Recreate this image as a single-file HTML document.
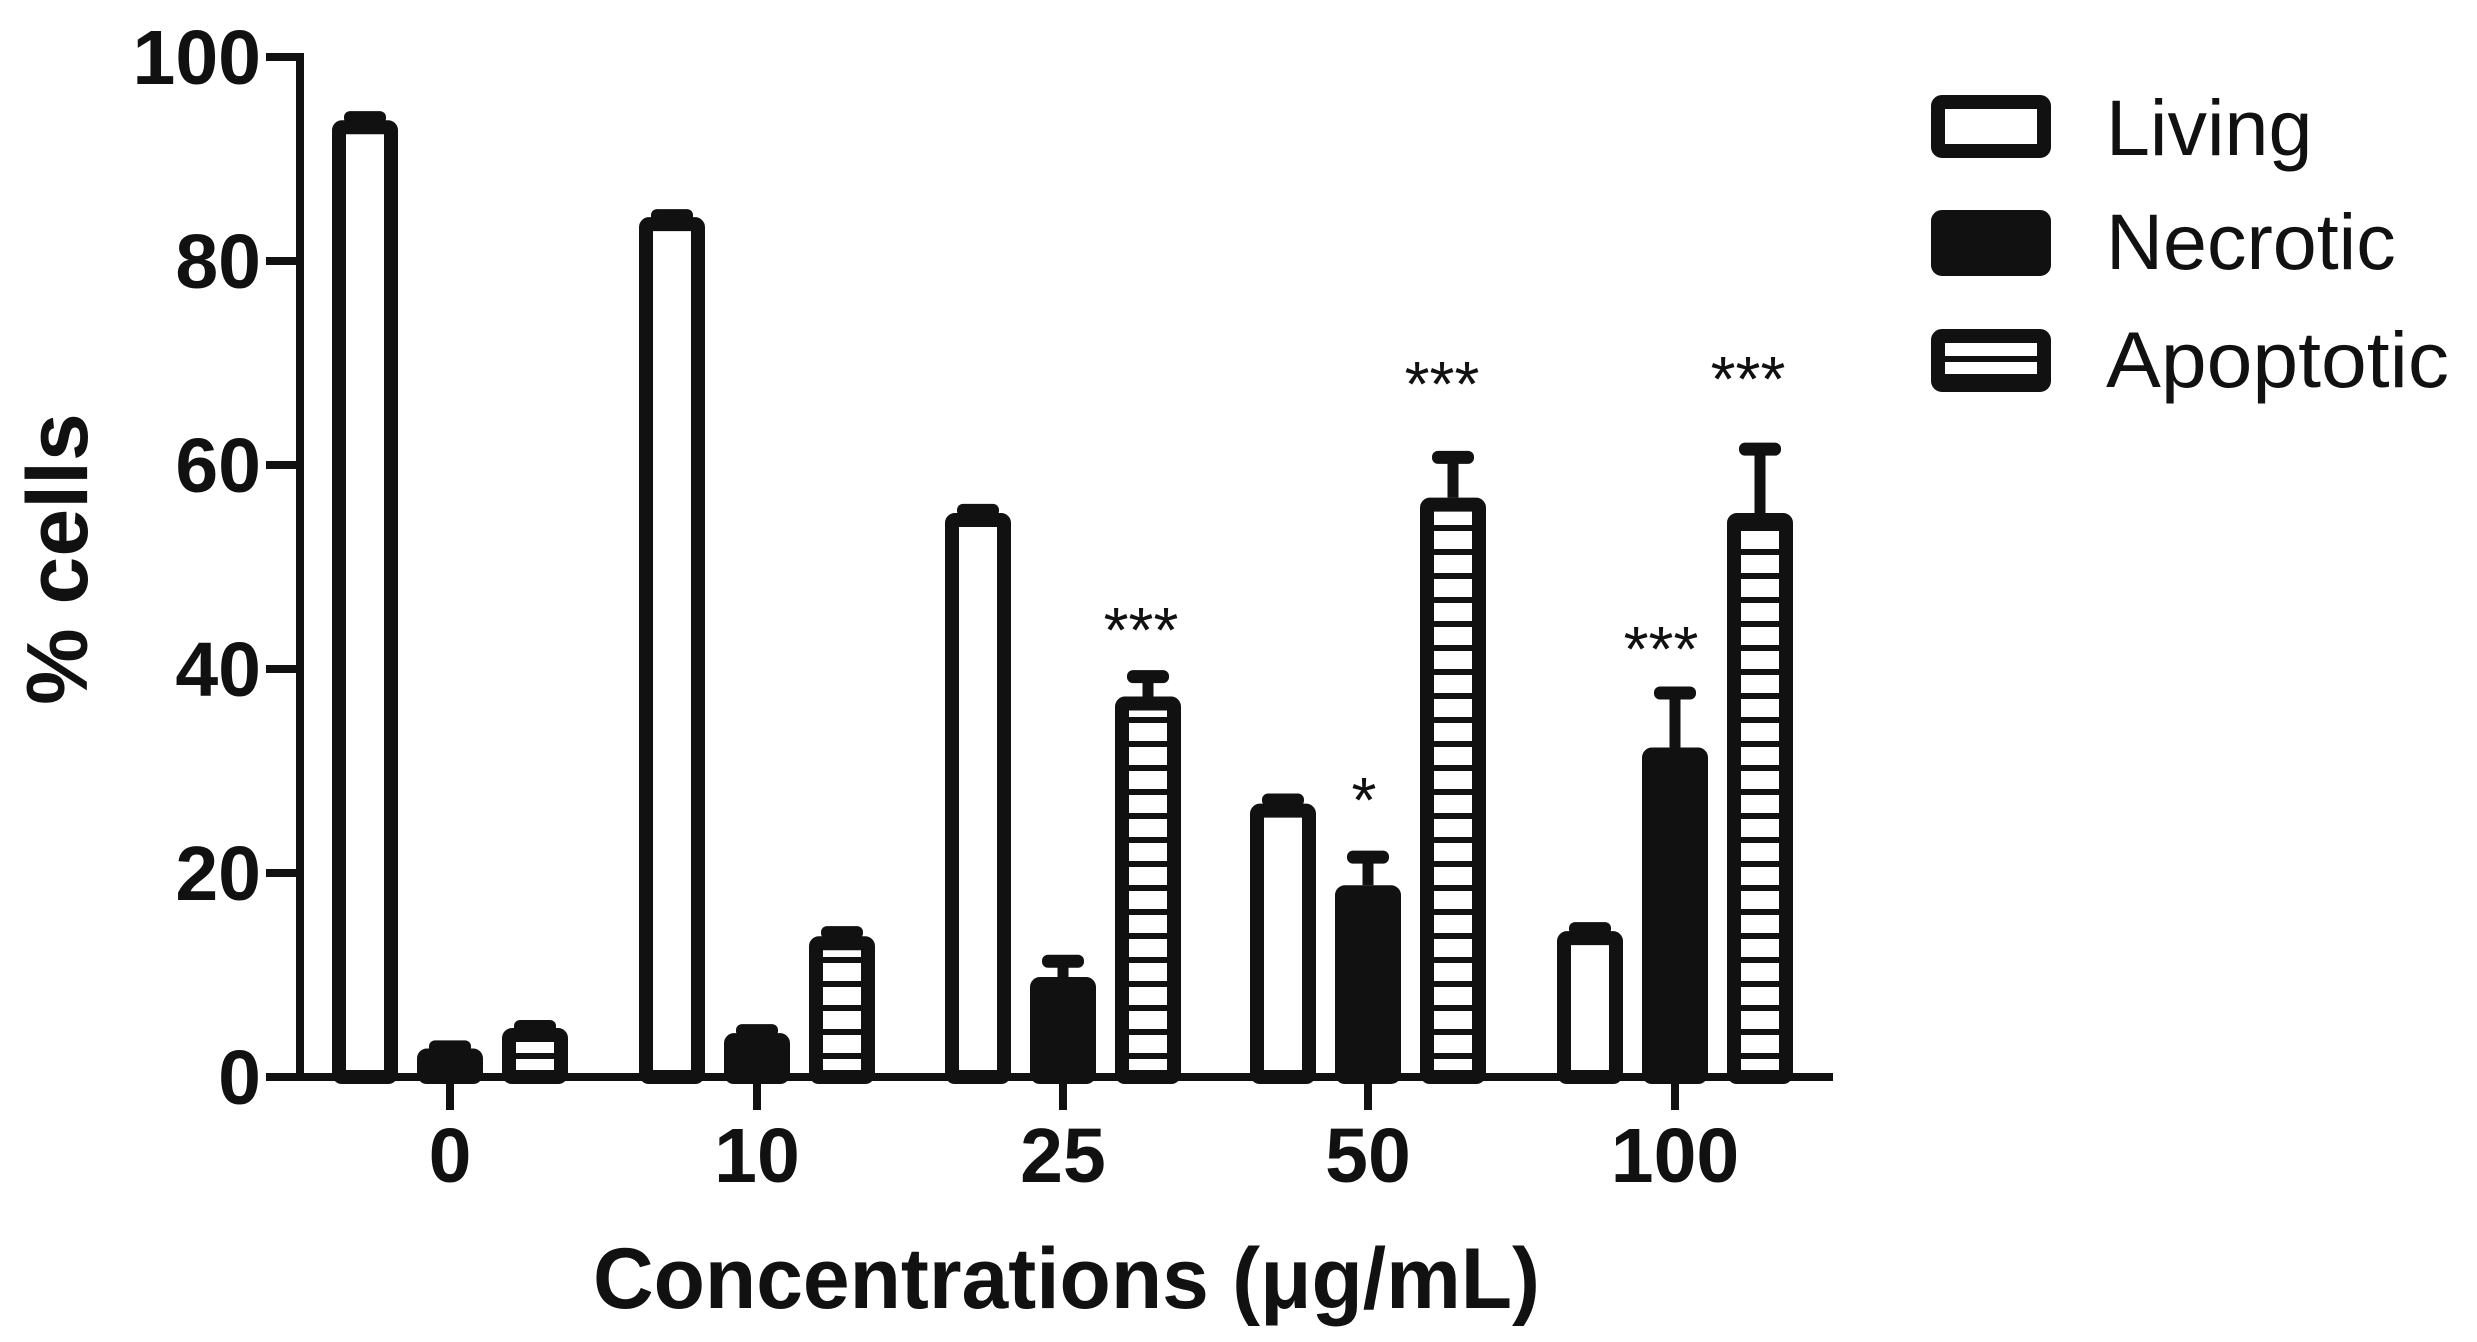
<!DOCTYPE html>
<html><head><meta charset="utf-8"><style>
html,body{margin:0;padding:0;background:#fff;}
svg{display:block;}
text{font-family:"Liberation Sans",Arial,sans-serif;fill:#111;}
</style></head><body>
<svg width="2477" height="1342" viewBox="0 0 2477 1342" xmlns="http://www.w3.org/2000/svg">
<defs>
<pattern id="hatch" patternUnits="userSpaceOnUse" width="20" height="24" y="1077">
<rect x="0" y="0" width="20" height="24" fill="#fff"/>
<rect x="0" y="0" width="20" height="6" fill="#111"/>
</pattern>
</defs>
<g stroke="#111" stroke-width="8" fill="none">
<line x1="300" y1="53" x2="300" y2="1081"/>
<line x1="296" y1="1077" x2="1833" y2="1077"/>
<line x1="266" y1="57" x2="300" y2="57"/>
<line x1="266" y1="261" x2="300" y2="261"/>
<line x1="266" y1="465" x2="300" y2="465"/>
<line x1="266" y1="669" x2="300" y2="669"/>
<line x1="266" y1="873" x2="300" y2="873"/>
<line x1="266" y1="1077" x2="300" y2="1077"/>
<line x1="450" y1="1077" x2="450" y2="1110"/>
<line x1="757" y1="1077" x2="757" y2="1110"/>
<line x1="1063" y1="1077" x2="1063" y2="1110"/>
<line x1="1368" y1="1077" x2="1368" y2="1110"/>
<line x1="1675" y1="1077" x2="1675" y2="1110"/>
</g>
<g font-weight="bold" font-size="77" text-anchor="end">
<text x="261" y="84">100</text>
<text x="261" y="288">80</text>
<text x="261" y="492">60</text>
<text x="261" y="696">40</text>
<text x="261" y="900">20</text>
<text x="261" y="1104">0</text>
</g>
<g font-weight="bold" font-size="77" text-anchor="middle">
<text x="450" y="1182">0</text>
<text x="757" y="1182">10</text>
<text x="1063" y="1182">25</text>
<text x="1368" y="1182">50</text>
<text x="1675" y="1182">100</text>
</g>
<text x="593" y="1308" font-weight="bold" font-size="86" textLength="947" lengthAdjust="spacingAndGlyphs">Concentrations (μg/mL)</text>
<text transform="translate(87,559) rotate(-90)" text-anchor="middle" font-weight="bold" font-size="86">% cells</text>

<g id="bars"></g>
<script>
(function(){
var g=document.getElementById('bars');
var ns='http://www.w3.org/2000/svg';
var centers=[450,757,1063,1368,1675];
var L=[93.8,84.3,55.3,26.8,14.3],N=[2.8,4.3,9.8,18.8,32.3],A=[4.8,13.8,37.3,56.8,55.3];
var eL=[0.3,0.2,0.3,0.4,0.3],eN=[0.2,0.3,1.6,2.8,5.4],eA=[0.2,0.4,2.0,4.0,6.3];
function y(v){return 1077-v*10.2;}
function el(n,a){var e=document.createElementNS(ns,n);for(var k in a)e.setAttribute(k,a[k]);g.appendChild(e);}
function bar(cx,v,e,fill){
 var w=66,t=y(v);
 var te=y(v+e);
 el('line',{x1:cx,y1:te,x2:cx,y2:t,stroke:'#111','stroke-width':11});
 el('rect',{x:cx-21,y:te-6,width:42,height:13,rx:6,fill:'#111'});
 el('rect',{x:cx-w/2+7,y:t+7,width:w-14,height:1077-t-7,fill:fill,stroke:'#111','stroke-width':14,rx:3});
}
for(var i=0;i<5;i++){
 bar(centers[i]-85,L[i],eL[i],'#fff');
 bar(centers[i],N[i],eN[i],'#111');
 bar(centers[i]+85,A[i],eA[i],'url(#hatch)');
}
})();
</script>
<g font-size="64" text-anchor="middle">
<text x="1141" y="652">***</text>
<text x="1364" y="822">*</text>
<text x="1442" y="406">***</text>
<text x="1661" y="671">***</text>
<text x="1748" y="401">***</text>
</g>
<g stroke="#111" stroke-width="14">
<rect x="1938" y="102" width="106" height="49" rx="4" fill="#fff"/>
<rect x="1938" y="217" width="106" height="52" rx="4" fill="#111"/>
<rect x="1938" y="336" width="106" height="49" rx="4" fill="#fff"/>
</g>
<rect x="1945" y="356" width="92" height="6" fill="#111"/>
<rect x="1945" y="374" width="92" height="4" fill="#111"/>
<g font-size="79">
<text x="2106" y="155">Living</text>
<text x="2106" y="269">Necrotic</text>
<text x="2106" y="387" textLength="343" lengthAdjust="spacingAndGlyphs">Apoptotic</text>
</g>
</svg>
</body></html>
